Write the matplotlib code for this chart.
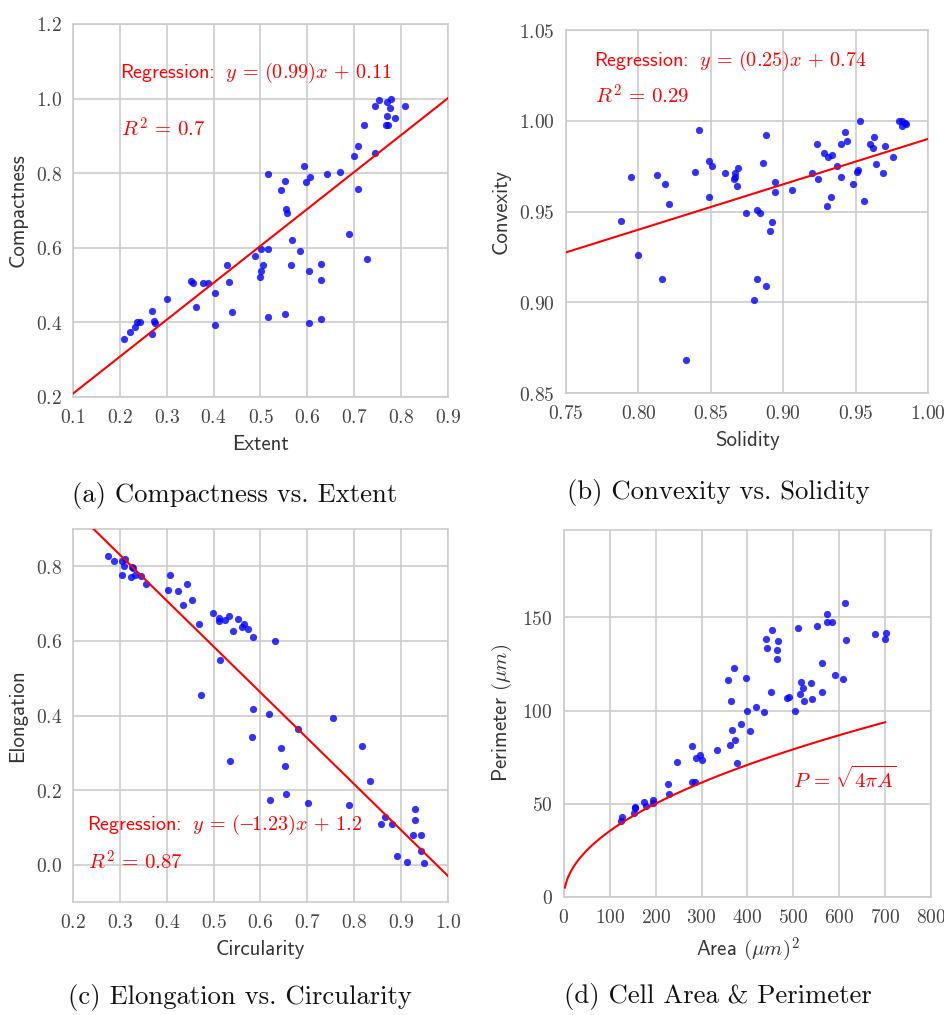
import numpy as np
import matplotlib.pyplot as plt
from matplotlib.ticker import FormatStrFormatter

# figure style: light grid, computer-modern text
plt.rcParams['mathtext.fontset'] = 'cm'
plt.rcParams['axes.unicode_minus'] = False

# (a) compactness vs extent
extent = [0.209, 0.222, 0.233, 0.237, 0.244, 0.269, 0.269, 0.272, 0.276, 0.301,
          0.351, 0.356, 0.363, 0.377, 0.388, 0.404, 0.402, 0.429, 0.433, 0.439,
          0.488, 0.498, 0.502, 0.505, 0.502, 0.516, 0.516, 0.516, 0.544, 0.552,
          0.554, 0.557, 0.552, 0.567, 0.565, 0.585, 0.593, 0.598, 0.606, 0.603,
          0.603, 0.630, 0.629, 0.629, 0.642, 0.670, 0.689, 0.699, 0.709, 0.709,
          0.727, 0.722, 0.744, 0.745, 0.753, 0.770, 0.779, 0.776, 0.771, 0.768,
          0.772, 0.787, 0.809]
compactness = [0.355, 0.375, 0.387, 0.400, 0.400, 0.430, 0.369, 0.404, 0.398, 0.463,
               0.512, 0.505, 0.440, 0.505, 0.505, 0.479, 0.392, 0.553, 0.508, 0.427,
               0.577, 0.521, 0.537, 0.553, 0.598, 0.598, 0.799, 0.414, 0.754, 0.779,
               0.705, 0.692, 0.423, 0.621, 0.553, 0.592, 0.818, 0.776, 0.789, 0.537,
               0.398, 0.556, 0.514, 0.410, 0.799, 0.802, 0.637, 0.845, 0.873, 0.757,
               0.570, 0.929, 0.854, 0.980, 0.996, 0.990, 0.999, 0.974, 0.954, 0.929,
               0.929, 0.948, 0.980]
reg_a = ('0.99', '0.11', '0.7')

# (b) convexity vs solidity
solidity = [0.788, 0.795, 0.800, 0.813, 0.818, 0.821, 0.816, 0.833, 0.839, 0.842,
            0.849, 0.851, 0.849, 0.860, 0.867, 0.867, 0.866, 0.869, 0.868, 0.874,
            0.882, 0.884, 0.882, 0.880, 0.886, 0.888, 0.888, 0.892, 0.891, 0.894,
            0.894, 0.906, 0.920, 0.923, 0.924, 0.928, 0.931, 0.934, 0.930, 0.933,
            0.937, 0.940, 0.940, 0.943, 0.944, 0.948, 0.951, 0.952, 0.953, 0.956,
            0.960, 0.962, 0.963, 0.964, 0.969, 0.970, 0.976, 0.980, 0.982, 0.982,
            0.984, 0.985]
convexity = [0.945, 0.969, 0.926, 0.970, 0.965, 0.954, 0.913, 0.868, 0.972, 0.995,
             0.978, 0.975, 0.958, 0.971, 0.969, 0.971, 0.968, 0.974, 0.964, 0.949,
             0.951, 0.949, 0.913, 0.901, 0.977, 0.992, 0.909, 0.944, 0.939, 0.966,
             0.961, 0.962, 0.971, 0.987, 0.968, 0.982, 0.980, 0.981, 0.953, 0.958,
             0.975, 0.987, 0.969, 0.994, 0.989, 0.965, 0.972, 0.973, 1.000, 0.956,
             0.987, 0.985, 0.991, 0.976, 0.971, 0.986, 0.980, 1.000, 1.000, 0.997,
             0.999, 0.998]
reg_b = ('0.25', '0.74', '0.29')

# (c) elongation vs circularity
circularity = [0.275, 0.288, 0.305, 0.311, 0.308, 0.304, 0.327, 0.324, 0.332, 0.329,
               0.346, 0.355, 0.402, 0.407, 0.425, 0.443, 0.435, 0.453, 0.469, 0.474,
               0.499, 0.512, 0.512, 0.524, 0.532, 0.541, 0.513, 0.553, 0.561, 0.565,
               0.574, 0.585, 0.631, 0.585, 0.583, 0.618, 0.536, 0.644, 0.652, 0.654,
               0.621, 0.680, 0.701, 0.755, 0.817, 0.834, 0.790, 0.858, 0.866, 0.881,
               0.891, 0.912, 0.925, 0.930, 0.930, 0.943, 0.943, 0.948]
elongation = [0.827, 0.814, 0.814, 0.820, 0.802, 0.778, 0.797, 0.771, 0.778, 0.796,
              0.774, 0.753, 0.736, 0.778, 0.733, 0.753, 0.697, 0.711, 0.645, 0.454,
              0.676, 0.662, 0.653, 0.657, 0.666, 0.627, 0.548, 0.658, 0.636, 0.646,
              0.633, 0.610, 0.600, 0.418, 0.343, 0.403, 0.277, 0.312, 0.264, 0.189,
              0.173, 0.364, 0.166, 0.393, 0.318, 0.224, 0.159, 0.108, 0.128, 0.108,
              0.024, 0.008, 0.079, 0.150, 0.121, 0.079, 0.038, 0.004]
reg_c = ('-1.23', '1.2', '0.87')

# (d) cell area & perimeter
area = [123.6, 126.5, 152.7, 154.9, 154.0, 175.3, 178.2, 194.9, 193.5, 227.6,
        229.1, 247.3, 280.0, 278.5, 285.8, 288.0, 296.7, 301.8, 333.0, 357.8,
        363.6, 362.2, 366.5, 373.8, 371.6, 376.7, 386.9, 397.1, 399.3, 405.1,
        418.2, 436.4, 440.7, 442.9, 453.8, 450.9, 464.0, 464.0, 466.9, 485.8,
        490.2, 502.5, 509.8, 513.5, 516.4, 520.0, 522.9, 538.9, 541.1, 551.3,
        562.2, 562.2, 572.4, 573.8, 583.3, 590.5, 608.7, 611.6, 613.8, 678.5,
        701.1, 698.9]
perimeter = [40.9, 42.7, 44.8, 47.5, 48.4, 51.1, 48.7, 52.0, 50.2, 60.4,
             55.2, 72.6, 80.8, 61.6, 61.6, 74.6, 76.3, 73.5, 79.0, 116.5,
             105.2, 81.5, 89.8, 84.1, 122.8, 71.9, 93.0, 117.7, 100.0, 89.1,
             101.8, 99.3, 138.7, 133.7, 143.2, 110.0, 132.4, 127.8, 137.5, 106.8,
             107.3, 100.0, 144.3, 109.0, 115.6, 112.0, 105.2, 114.7, 106.3, 145.7,
             125.4, 110.2, 152.0, 147.7, 147.7, 119.0, 117.2, 157.7, 138.0, 141.0,
             141.9, 138.5]

GRID = '#cccccc'
TICKC = '#444444'
LABC = '#333333'


def style(ax, xt, yt, xlim, ylim, xfmt, yfmt):
    ax.set_xlim(xlim)
    ax.set_ylim(ylim)
    ax.set_xticks(xt)
    ax.set_yticks(yt)
    ax.xaxis.set_major_formatter(FormatStrFormatter(xfmt))
    ax.yaxis.set_major_formatter(FormatStrFormatter(yfmt))
    ax.grid(True, color=GRID, lw=1.2)
    ax.set_axisbelow(True)
    for s in ax.spines.values():
        s.set_color(GRID)
        s.set_linewidth(1.2)
    ax.tick_params(length=0, labelsize=14, colors=TICKC, pad=8)


def dots(ax, x, y):
    ax.scatter(x, y, s=27, color='#0000ff', alpha=0.8, linewidths=0, zorder=3)


def regression(ax, reg, xlim, pos_eq, pos_r2):
    m, b, r2 = reg
    xs = np.array(xlim)
    ax.plot(xs, float(m) * xs + float(b), color='red', lw=1.5, zorder=4)
    ax.text(pos_eq[0], pos_eq[1],
            r'Regression: $\;y \,=\, (%s)x \,+\, %s$' % (m.replace('-', r'-\!'), b),
            color='red', fontsize=14.5, va='center', family='cmss10')
    ax.text(pos_r2[0], pos_r2[1], r'$R^2 \,=\, %s$' % r2, color='red',
            fontsize=15, va='center')


def labels(ax, xl, yl):
    ax.set_xlabel(xl, fontsize=15, color=LABC, labelpad=6, family='cmss10')
    ax.set_ylabel(yl, fontsize=15, color=LABC, labelpad=6, family='cmss10')


fig = plt.figure(figsize=(9.45, 10.15), dpi=100)

# (a)
ax = fig.add_axes([0.0772, 0.6089, 0.3968, 0.3675])
dots(ax, extent, compactness)
regression(ax, reg_a, (0.1, 0.9), (0.2, 1.068), (0.203, 0.918))
style(ax, np.arange(0.1, 0.91, 0.1), np.arange(0.2, 1.21, 0.2), (0.1, 0.9), (0.2, 1.2),
      r'$%.1f$', r'$%.1f$')
labels(ax, 'Extent', 'Compactness')

# (b)
ax = fig.add_axes([0.599, 0.6128, 0.383, 0.3576])
dots(ax, solidity, convexity)
regression(ax, reg_b, (0.75, 1.0), (0.769, 1.033), (0.770, 1.0136))
style(ax, np.arange(0.75, 1.001, 0.05), np.arange(0.85, 1.051, 0.05), (0.75, 1.0), (0.85, 1.05),
      r'$%.2f$', r'$%.2f$')
labels(ax, 'Solidity', 'Convexity')

# (c)
ax = fig.add_axes([0.0772, 0.1113, 0.3968, 0.3675])
dots(ax, circularity, elongation)
regression(ax, reg_c, (0.2, 1.0), (0.230, 0.106), (0.232, 0.009))
style(ax, np.arange(0.2, 1.01, 0.1), np.arange(0.0, 0.81, 0.2), (0.2, 1.0), (-0.1, 0.9),
      r'$%.1f$', r'$%.1f$')
labels(ax, 'Circularity', 'Elongation')

# (d)
ax = fig.add_axes([0.5968, 0.1163, 0.3884, 0.3616])
dots(ax, area, perimeter)
a_curve = np.linspace(2, 700, 300)
ax.plot(a_curve, np.sqrt(4 * np.pi * a_curve), color='red', lw=1.5, zorder=4)
ax.text(500, 63.6, r'$P \,=\, \sqrt{4\pi A}$', color='red', fontsize=15, va='center')
style(ax, np.arange(0, 801, 100), [0, 50, 100, 150], (0, 800), (0, 197),
      r'$%d$', r'$%d$')
labels(ax, r'Area $(\mu m)^2$', r'Perimeter $(\mu m)$')

# captions, set in computer modern roman
caps = [(0.248, 0.512, '(a) Compactness vs. Extent'),
        (0.760, 0.515, '(b) Convexity vs. Solidity'),
        (0.254, 0.017, '(c) Elongation vs. Circularity'),
        (0.760, 0.018, '(d) Cell Area & Perimeter')]
for x, y, s in caps:
    fig.text(x, y, s, fontsize=19.2, ha='center', va='center', color='#111111',
             family='cmr10')

fig.savefig('out.png', dpi=100)
